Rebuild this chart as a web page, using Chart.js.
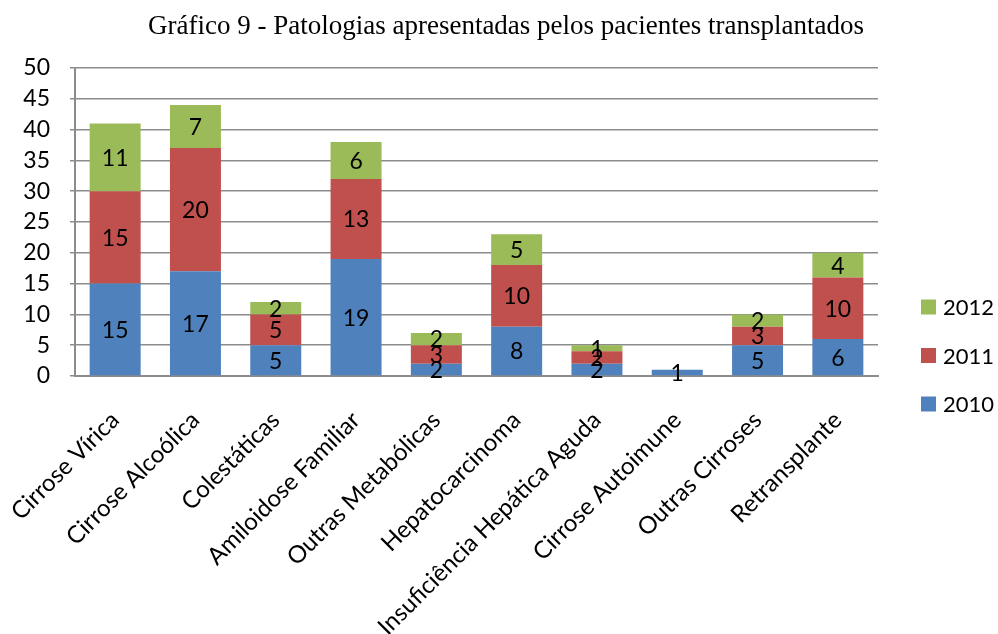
<!DOCTYPE html>
<html>
<head>
<meta charset="utf-8">
<script src="https://cdn.jsdelivr.net/npm/chart.js@4.4.1/dist/chart.umd.min.js"></script>
<style>
  html, body { margin: 0; padding: 0; background: #fff; }
  #wrap { width: 998px; height: 634px; position: relative; }
</style>
</head>
<body>
<div id="wrap"><canvas id="c" width="998" height="634"></canvas></div>
<script>
const titleText = "Gráfico 9 - Patologias apresentadas pelos pacientes transplantados";
const categories = ["Cirrose Vírica", "Cirrose Alcoólica", "Colestáticas", "Amiloidose Familiar", "Outras Metabólicas", "Hepatocarcinoma", "Insuficiência Hepática Aguda", "Cirrose Autoimune", "Outras Cirroses", "Retransplante"];
const seriesNames = ["2010", "2011", "2012"];
const values2010 = [15, 17, 5, 19, 2, 8, 2, 1, 5, 6];
const values2011 = [15, 20, 5, 13, 3, 10, 2, 0, 3, 10];
const values2012 = [11, 7, 2, 6, 2, 5, 1, 0, 2, 4];
const yTicks = [0, 5, 10, 15, 20, 25, 30, 35, 40, 45, 50];

const colors = ["#4F81BD", "#C0504D", "#9BBB59"];
const labelFont = "Lato";
const gridColor = "#8c8c8c";

const dataLabels = {
  id: "dataLabels",
  afterDatasetsDraw(chart) {
    const ctx = chart.ctx;
    ctx.save();
    ctx.font = "23px " + labelFont;
    ctx.fillStyle = "#000";
    ctx.textAlign = "center";
    ctx.textBaseline = "middle";
    chart.data.datasets.forEach((ds, i) => {
      const meta = chart.getDatasetMeta(i);
      meta.data.forEach((el, j) => {
        const v = ds.data[j];
        if (v > 0) {
          const p = el.getProps(["x", "y", "base"], true);
          ctx.fillText(String(v), p.x, (p.y + p.base) / 2 + 1);
        }
      });
    });
    ctx.restore();
  }
};

const customLegend = {
  id: "customLegend",
  afterDraw(chart) {
    const ctx = chart.ctx;
    const area = chart.chartArea;
    ctx.save();
    ctx.font = "22px " + labelFont;
    ctx.textAlign = "left";
    ctx.textBaseline = "middle";
    const boxX = area.right + 43;
    const startY = 307;
    const step = 48.5;
    const n = chart.data.datasets.length;
    for (let k = 0; k < n; k++) {
      const ds = chart.data.datasets[n - 1 - k];
      const cy = startY + k * step;
      ctx.fillStyle = ds.backgroundColor;
      ctx.fillRect(boxX, cy - 7.5, 15, 15);
      ctx.fillStyle = "#000";
      ctx.fillText(ds.label, boxX + 22, cy + 1);
    }
    ctx.restore();
  }
};

new Chart(document.getElementById("c"), {
  type: "bar",
  data: {
    labels: categories,
    datasets: [
      { label: seriesNames[0], data: values2010, backgroundColor: colors[0] },
      { label: seriesNames[1], data: values2011, backgroundColor: colors[1] },
      { label: seriesNames[2], data: values2012, backgroundColor: colors[2] }
    ]
  },
  options: {
    responsive: false,
    animation: false,
    layout: { padding: { left: 14, right: 0, top: 0, bottom: 0 } },
    datasets: { bar: { barPercentage: 0.635, categoryPercentage: 1.0, borderWidth: 0 } },
    plugins: {
      legend: { display: false },
      tooltip: { enabled: false },
      title: {
        display: true,
        text: titleText,
        color: "#000",
        font: { family: "Liberation Serif", size: 27, weight: "normal" },
        padding: { top: 10.8, bottom: 24.8 }
      }
    },
    scales: {
      x: {
        stacked: true,
        grid: { display: false, drawTicks: false },
        border: { display: true, color: gridColor, width: 2 },
        ticks: {
          color: "#000",
          font: { family: labelFont, size: 24 },
          minRotation: 45,
          maxRotation: 45,
          autoSkip: false,
          padding: 30
        },
        afterFit(s) { s.height = 258; s.paddingLeft = 0; s.paddingRight = 0; }
      },
      y: {
        stacked: true,
        min: 0,
        max: 50,
        afterBuildTicks(s) { s.ticks = yTicks.map(v => ({ value: v })); },
        grid: { color: gridColor, lineWidth: 1.5, tickLength: 5, drawTicks: true },
        border: { display: true, color: gridColor, width: 2 },
        ticks: {
          color: "#000",
          font: { family: labelFont, size: 23 },
          padding: 20
        },
        afterFit(s) { s.width = 61; }
      },
      yRight: {
        type: "linear",
        position: "right",
        display: true,
        grid: { display: false, drawTicks: false },
        border: { display: false },
        ticks: { display: false },
        afterFit(s) { s.width = 120; }
      }
    }
  },
  plugins: [dataLabels, customLegend]
});
</script>
</body>
</html>
